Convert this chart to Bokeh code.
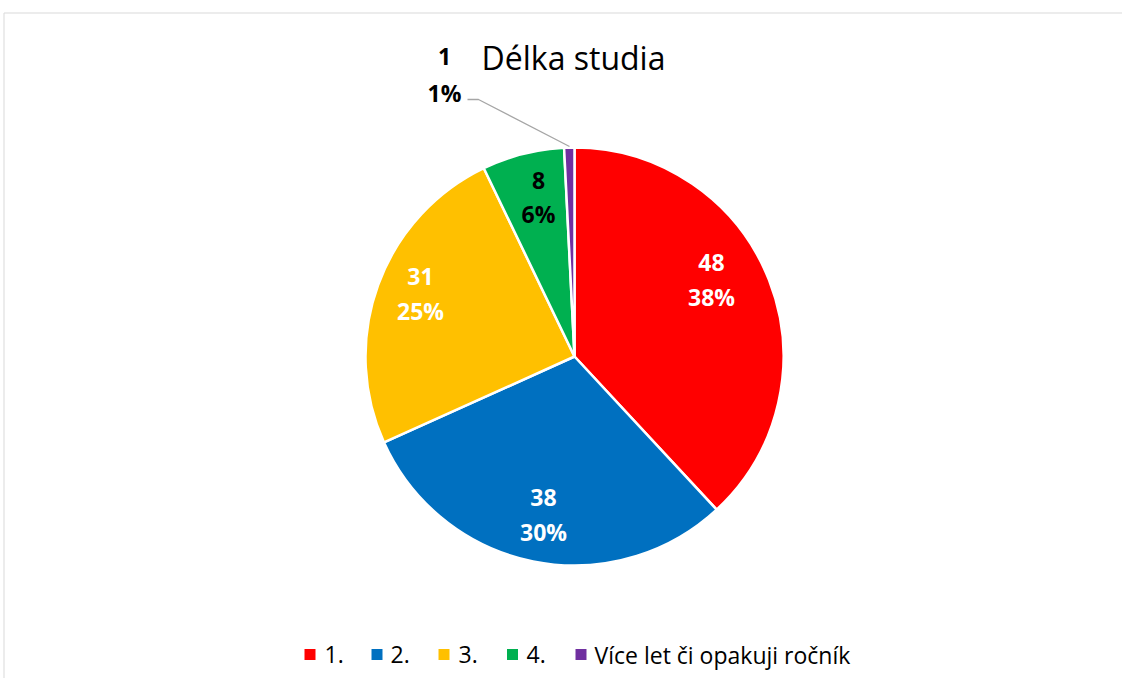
import math
from bokeh.plotting import figure
from bokeh.models import Range1d, ColumnDataSource
from bokeh.core.properties import value
from bokeh.embed import file_html
from bokeh.resources import INLINE

# ---- data ----
categories = ["1.", "2.", "3.", "4.", "Více let či opakuji ročník"]
counts = [48, 38, 31, 8, 1]
colors = ["#FF0000", "#0070C0", "#FFC000", "#00B050", "#7030A0"]
title_text = "Délka studia"

total = sum(counts)
pct_labels = [f"{round(100 * c / total)}%" for c in counts]

# ---- layout (pixel coordinates; data y = H - pixel y) ----
W_FIG, H_FIG = 1122, 678
H = H_FIG
def Y(py):
    return H - py

p = figure(width=W_FIG, height=H_FIG, x_range=Range1d(0, W_FIG), y_range=Range1d(0, H_FIG),
           output_backend="svg", toolbar_location=None, min_border=0)
p.axis.visible = False
p.grid.visible = False
p.outline_line_color = None
p.background_fill_color = "white"
p.border_fill_color = "white"

# chart border
p.quad(left=[3.5], right=[1135], bottom=[Y(690)], top=[Y(12.5)],
       fill_color=None, line_color="#d9d9d9", line_width=1)

# pie
cx, cy, R = 574, Y(356), 209
starts, ends = [], []
cum = 0
for c in counts:
    starts.append(math.pi / 2 - 2 * math.pi * cum / total)
    cum += c
    ends.append(math.pi / 2 - 2 * math.pi * cum / total)
src = ColumnDataSource(dict(start=starts, end=ends, color=colors))
p.wedge(x=cx, y=cy, radius=R, start_angle="start", end_angle="end", direction="clock",
        fill_color="color", line_color="white", line_width=2.5, source=src)

# leader line for smallest slice
p.line(x=[467, 478, 569], y=[Y(99), Y(99), Y(146)], line_color="#a6a6a6", line_width=1.3)

# data labels
lab_x = [711, 543, 420, 538, 444]
lab_y1 = [262, 497, 276, 180, 56]
lab_y2 = [296, 531, 310, 213, 92]
lab_col = ["white", "white", "white", "black", "black"]
lsrc = ColumnDataSource(dict(x=lab_x, y1=[Y(v) for v in lab_y1], y2=[Y(v) for v in lab_y2],
                             n=[str(c) for c in counts], pct=pct_labels, col=lab_col))
for col, txt in (("y1", "n"), ("y2", "pct")):
    p.text(x="x", y=col, text=txt, text_color="col", source=lsrc,
           text_font=value("Open Sans"), text_font_style="bold", text_font_size="23px",
           text_align="center", text_baseline="middle")

# title
p.text(x=[573], y=[Y(57)], text=[title_text], text_font=value("Open Sans"),
       text_font_size="32px", text_color="black", text_align="center", text_baseline="middle")

# legend
sq_x = [309.5, 376.5, 443.5, 512, 580.5]
tx_x = [324, 390, 458, 526, 594]
ly = Y(654)
p.rect(x=sq_x, y=[ly] * 5, width=11, height=11, fill_color=colors, line_color=None)
p.text(x=tx_x, y=[ly] * 5, text=categories, text_font=value("Open Sans"),
       text_font_size="23px", text_color="black", text_align="left", text_baseline="middle")

open("out.html", "w").write(file_html(p, INLINE))
